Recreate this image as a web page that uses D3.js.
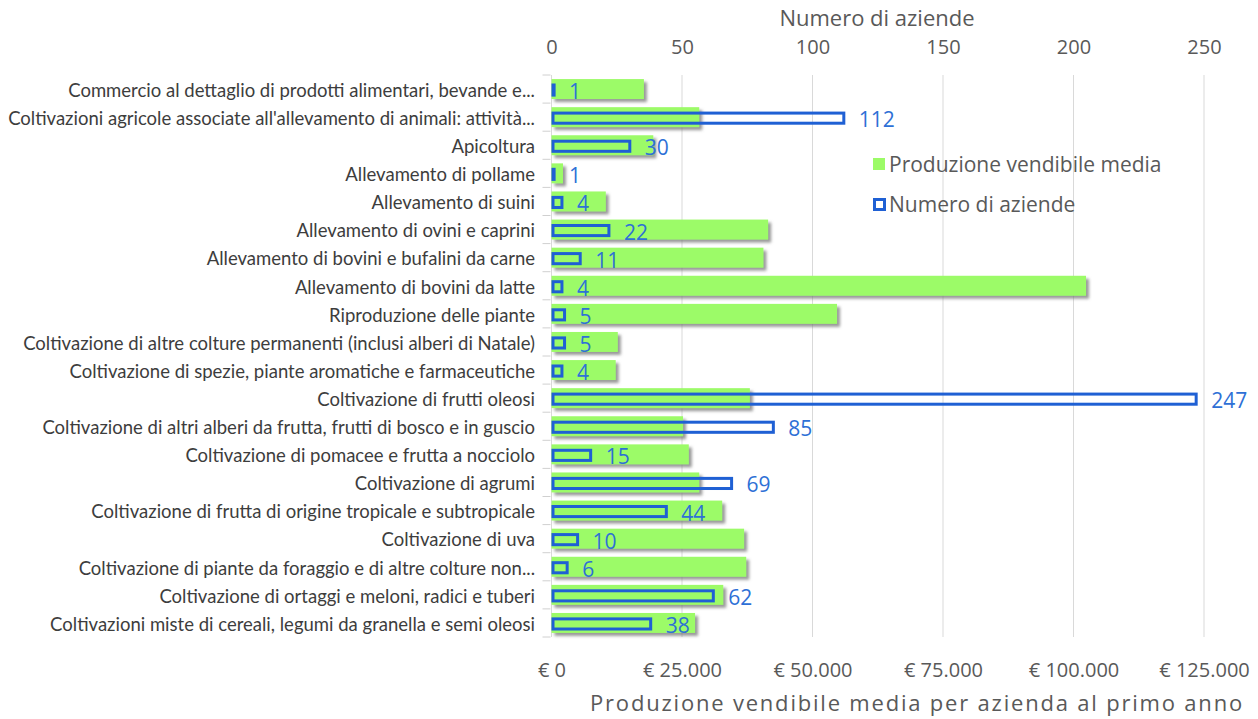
<!DOCTYPE html>
<html><head><meta charset="utf-8">
<script src="https://cdn.jsdelivr.net/npm/d3@7"></script>
<style>
html,body{margin:0;padding:0;background:#fff;}
svg{display:block;}
</style></head>
<body>
<svg id="chart" width="1258" height="719"></svg>
<script>
const categories = [
  "Commercio al dettaglio di prodotti alimentari, bevande e...",
  "Coltivazioni agricole associate all'allevamento di animali: attività...",
  "Apicoltura",
  "Allevamento di pollame",
  "Allevamento di suini",
  "Allevamento di ovini e caprini",
  "Allevamento di bovini e bufalini da carne",
  "Allevamento di bovini da latte",
  "Riproduzione delle piante",
  "Coltivazione di altre colture permanenti (inclusi alberi di Natale)",
  "Coltivazione di spezie, piante aromatiche e farmaceutiche",
  "Coltivazione di frutti oleosi",
  "Coltivazione di altri alberi da frutta, frutti di bosco e in guscio",
  "Coltivazione di pomacee e frutta a nocciolo",
  "Coltivazione di agrumi",
  "Coltivazione di frutta di origine tropicale e subtropicale",
  "Coltivazione di uva",
  "Coltivazione di piante da foraggio e di altre colture non...",
  "Coltivazione di ortaggi e meloni, radici e tuberi",
  "Coltivazioni miste di cereali, legumi da granella e semi oleosi"
];
const produzione = [17700, 28300, 19500, 2200, 10400, 41500, 40600, 102400, 54700, 12700,
                    12300, 38000, 25200, 26300, 28300, 32700, 36900, 37300, 32900, 27500];
const aziende = [1, 112, 30, 1, 4, 22, 11, 4, 5, 5, 4, 247, 85, 15, 69, 44, 10, 6, 62, 38];
const euroTicks = [0, 25000, 50000, 75000, 100000, 125000];
const countTicks = [0, 50, 100, 150, 200, 250];
const seriesNames = ["Produzione vendibile media", "Numero di aziende"];
const topTitle = "Numero di aziende";
const bottomTitle = "Produzione vendibile media per azienda al primo anno";

const GREEN = "#9cfb67", BLUE = "#1f60d4", BLUE_TXT = "#2e70d6";
const TXT = "#595959", LBL = "#3d3d3d", GRID = "#d9d9d9";
const FONT = "'Open Sans', 'Noto Sans', sans-serif";

const svg = d3.select("#chart");
const pLeft = 551.5, pRight = 1204, pTop = 75, pBottom = 637;

const x = d3.scaleLinear().domain([0, 125000]).range([pLeft, pRight]);
const xc = d3.scaleLinear().domain([0, 250]).range([pLeft, pRight]);
const y = d3.scaleBand().domain(categories).range([pTop, pBottom]).padding(0);
const bw = y.bandwidth();

const defs = svg.append("defs");
const f = defs.append("filter").attr("id", "shadow").attr("x", "-10%").attr("y", "-40%").attr("width", "130%").attr("height", "200%");
f.append("feDropShadow").attr("dx", 3).attr("dy", 3).attr("stdDeviation", 1.6)
  .attr("flood-color", "#777").attr("flood-opacity", 0.75);

// gridlines
svg.append("g").selectAll("line").data(countTicks).join("line")
  .attr("x1", d => xc(d)).attr("x2", d => xc(d))
  .attr("y1", pTop).attr("y2", pBottom)
  .attr("stroke", GRID).attr("stroke-width", 1);

// left category tick marks at band boundaries
const bounds = categories.map(c => y(c)).concat([pBottom]);
svg.append("g").selectAll("line").data(bounds).join("line")
  .attr("x1", pLeft - 9).attr("x2", pLeft - 1)
  .attr("y1", d => d).attr("y2", d => d)
  .attr("stroke", "#d0d0d0").attr("stroke-width", 1);

// green bars
const gh = bw * 0.71;
svg.append("g").attr("filter", "url(#shadow)").selectAll("rect").data(produzione).join("rect")
  .attr("x", x(0))
  .attr("y", (d, i) => y(categories[i]) + (bw - gh) / 2)
  .attr("width", d => x(d) - x(0))
  .attr("height", gh)
  .attr("fill", GREEN);

// blue outline bars
const bh = bw * 0.36;
svg.append("g").selectAll("rect").data(aziende).join("rect")
  .attr("x", xc(0) + 1.5)
  .attr("y", (d, i) => y(categories[i]) + (bw - bh) / 2 + 1)
  .attr("width", d => Math.max(xc(d) - xc(0) - 1.5, 0.5))
  .attr("height", bh)
  .attr("fill", "none")
  .attr("stroke", BLUE).attr("stroke-width", 3);

// data labels
svg.append("g").selectAll("text").data(aziende).join("text")
  .attr("x", d => xc(d) + 15)
  .attr("y", (d, i) => y(categories[i]) + bw / 2 + 2)
  .attr("dominant-baseline", "central")
  .attr("font-family", FONT).attr("font-size", 21)
  .attr("fill", BLUE_TXT)
  .text(d => d);

// category labels (condensed)
const labelRight = 535;
const lblG = svg.append("g").attr("transform", `translate(${labelRight},0)`);
const inner = lblG.append("g");
const lbls = inner.selectAll("text").data(categories).join("text")
  .attr("x", 0)
  .attr("y", d => y(d) + bw / 2)
  .attr("dominant-baseline", "central")
  .attr("text-anchor", "end")
  .attr("font-family", "Lato, 'Liberation Sans', sans-serif").attr("font-size", 20)
  .attr("fill", LBL)
  .text(d => d);
const widths = lbls.nodes().map(n => n.getComputedTextLength());
const k = Math.min(522 / widths[9], (labelRight - 8) / d3.max(widths));
inner.attr("transform", `scale(${k},1)`);

// top axis
const itLocale = d3.formatLocale({decimal: ",", thousands: ".", grouping: [3], currency: ["€ ", ""]});
const topAxis = d3.axisTop(xc).tickValues(countTicks).tickSize(0).tickPadding(0);
const gTop = svg.append("g").attr("transform", `translate(0,54)`).call(topAxis);
gTop.select(".domain").remove();
gTop.selectAll("text").attr("font-family", FONT).attr("font-size", 20).attr("fill", TXT).attr("dy", 0);

svg.append("text").attr("x", 877).attr("y", 26)
  .attr("text-anchor", "middle").attr("font-family", FONT).attr("font-size", 22).attr("fill", TXT)
  .text(topTitle);

// bottom axis
const fmt = itLocale.format("$,.0f");
const botAxis = d3.axisBottom(x).tickValues(euroTicks).tickSize(0).tickPadding(0).tickFormat(d => fmt(d));
const gBot = svg.append("g").attr("transform", `translate(0,677)`).call(botAxis);
gBot.select(".domain").remove();
gBot.selectAll("text").attr("font-family", FONT).attr("font-size", 20).attr("fill", TXT).attr("dy", 0);

svg.append("text").attr("x", 917).attr("y", 711)
  .attr("text-anchor", "middle").attr("font-family", FONT).attr("font-size", 22)
  .attr("letter-spacing", 1.8).attr("fill", TXT)
  .text(bottomTitle);

// legend
const lg = svg.append("g");
lg.append("rect").attr("x", 873).attr("y", 158).attr("width", 12).attr("height", 12).attr("fill", GREEN);
lg.append("text").attr("x", 889).attr("y", 164).attr("dominant-baseline", "central")
  .attr("font-family", FONT).attr("font-size", 21).attr("fill", TXT).text(seriesNames[0]);
lg.append("rect").attr("x", 874.5).attr("y", 199.5).attr("width", 10).attr("height", 10)
  .attr("fill", "#fff").attr("stroke", BLUE).attr("stroke-width", 3);
lg.append("text").attr("x", 889).attr("y", 204).attr("dominant-baseline", "central")
  .attr("font-family", FONT).attr("font-size", 21).attr("fill", TXT).text(seriesNames[1]);
</script>
</body></html>
